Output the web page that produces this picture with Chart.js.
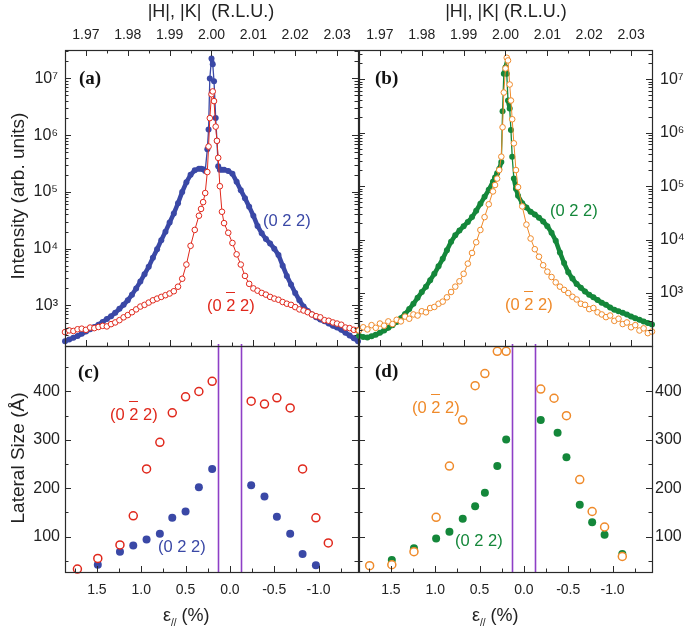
<!DOCTYPE html>
<html>
<head>
<meta charset="utf-8">
<script src="https://cdn.jsdelivr.net/npm/chart.js@4.4.1/dist/chart.umd.min.js"></script>
<style>
  body { margin: 0; background: #fff; }
  #wrap { position: relative; width: 685px; height: 626px; background: #fff; overflow: hidden; }
  canvas { position: absolute; left: 0; top: 0; }
  .t { position: absolute; white-space: nowrap; font-family: 'Liberation Sans', Arial, sans-serif; line-height: 1; color: #222; }
  .title { font-size: 18px; }
  .rot { transform: translate(-50%, -50%) rotate(-90deg); font-size: 19px; }
  .tag { font-family: 'Liberation Serif', 'Times New Roman', serif; font-weight: bold; font-size: 19px; color: #111; }
  .s { font-size: 16.5px; }
  .ov { position: relative; }
  .ov::before { content: ''; position: absolute; left: 0; right: 0; top: -4px; border-top: 1.5px solid currentColor; }
  sub { font-size: 10px; vertical-align: -5px; }
</style>
</head>
<body>
<div id="wrap">
  <canvas id="pa" width="685" height="626"></canvas>
  <canvas id="pb" width="685" height="626"></canvas>
  <canvas id="pc" width="685" height="626"></canvas>
  <canvas id="pd" width="685" height="626"></canvas>

  <div class="t title" style="left:211px;top:2px;transform:translateX(-50%)">|H|, |K|&nbsp;&nbsp;(R.L.U.)</div>
  <div class="t title" style="left:506px;top:2px;transform:translateX(-50%)">|H|, |K| (R.L.U.)</div>
  <div class="t title rot" style="left:17px;top:196px">Intensity (arb. units)</div>
  <div class="t title rot" style="left:17px;top:458px">Lateral Size (Å)</div>
  <div class="t title" style="left:163px;top:606px">ε<sub>//</sub> (%)</div>
  <div class="t title" style="left:472px;top:606px">ε<sub>//</sub> (%)</div>

  <div class="t tag" style="left:79px;top:68px">(a)</div>
  <div class="t tag" style="left:375px;top:68px">(b)</div>
  <div class="t tag" style="left:78px;top:362px">(c)</div>
  <div class="t tag" style="left:375px;top:361px">(d)</div>

  <div class="t s" style="left:263px;top:212px;color:#3a48a6">(0 2 2)</div>
  <div class="t s" style="left:207px;top:297px;color:#e0281c">(0 <span class="ov">2</span> 2)</div>
  <div class="t s" style="left:550px;top:202px;color:#14873a">(0 2 2)</div>
  <div class="t s" style="left:505px;top:296px;color:#ef8a2a">(0 <span class="ov">2</span> 2)</div>
  <div class="t s" style="left:110px;top:406px;color:#e0281c">(0 <span class="ov">2</span> 2)</div>
  <div class="t s" style="left:158px;top:538px;color:#3a48a6">(0 2 2)</div>
  <div class="t s" style="left:412px;top:399px;color:#ef8a2a">(0 <span class="ov">2</span> 2)</div>
  <div class="t s" style="left:455px;top:532px;color:#14873a">(0 2 2)</div>
</div>

<script>
// ---- data: top panels, |H|,|K| grid (R.L.U.) and log10 of intensity ----
const hGrid = [1.965,1.966,1.967,1.968,1.969,1.970,1.971,1.972,1.973,1.974,1.975,1.976,1.977,1.978,1.979,1.980,1.981,1.982,1.983,1.984,1.985,1.986,1.987,1.988,1.989,1.990,1.991,1.992,1.993,1.994,1.995,1.996,1.997,
  1.9975,1.998,1.9985,1.999,1.9993,1.9996,2.0,2.0003,2.0006,2.001,2.0013,2.0016,2.002,2.0025,2.003,
  2.004,2.005,2.006,2.007,2.008,2.009,2.010,2.011,2.012,2.013,2.014,2.015,2.016,2.017,2.018,2.019,2.020,2.021,2.022,2.023,2.024,2.025,2.026,2.027,2.028,2.029,2.030,2.031,2.032,2.033,2.034,2.035];

const logA022 = [2.37,2.40,2.43,2.46,2.50,2.54,2.58,2.62,2.66,2.71,2.76,2.81,2.87,2.94,3.01,3.09,3.19,3.30,3.42,3.55,3.68,3.84,3.99,4.15,4.30,4.46,4.62,4.80,5.00,5.17,5.30,5.38,5.41,
  5.41,5.40,5.37,5.75,6.10,7.00,7.35,7.25,6.95,6.30,5.90,5.45,5.39,5.39,5.39,
  5.37,5.32,5.18,5.03,4.89,4.74,4.58,4.40,4.27,4.17,4.09,4.00,3.89,3.70,3.52,3.37,3.22,3.09,2.98,2.90,2.84,2.79,2.75,2.72,2.68,2.64,2.61,2.57,2.52,2.47,2.42,2.37];

const logA0m22 = [2.53,2.56,2.55,2.58,2.59,2.57,2.61,2.60,2.62,2.64,2.63,2.67,2.70,2.74,2.79,2.83,2.88,2.93,2.98,3.01,3.05,3.09,3.12,3.15,3.18,3.21,3.25,3.33,3.47,3.72,4.05,4.33,4.58,
  4.70,4.82,4.98,5.35,5.80,6.30,6.72,6.77,6.60,6.15,5.90,5.60,5.10,4.65,4.45,
  4.28,4.10,3.90,3.72,3.52,3.38,3.30,3.26,3.22,3.19,3.15,3.12,3.10,3.06,3.03,3.01,2.97,2.93,2.91,2.88,2.84,2.81,2.79,2.74,2.73,2.70,2.68,2.66,2.61,2.60,2.57,2.56];

const logB022 = [2.20,2.18,2.17,2.19,2.22,2.26,2.30,2.35,2.40,2.46,2.53,2.61,2.70,2.80,2.91,3.02,3.12,3.24,3.36,3.50,3.64,3.80,3.96,4.08,4.17,4.25,4.33,4.42,4.54,4.67,4.80,4.93,5.08,
  5.16,5.24,5.32,5.45,6.40,7.10,7.22,7.10,6.60,6.45,6.05,5.55,5.14,4.95,4.82,
  4.68,4.60,4.52,4.47,4.41,4.34,4.25,4.13,3.98,3.76,3.56,3.39,3.27,3.17,3.10,3.03,2.97,2.92,2.87,2.82,2.78,2.73,2.69,2.66,2.63,2.60,2.56,2.53,2.50,2.47,2.44,2.41];

const logB0m22 = [2.30,2.36,2.32,2.40,2.35,2.43,2.39,2.47,2.42,2.50,2.47,2.56,2.52,2.60,2.58,2.66,2.64,2.72,2.74,2.80,2.84,2.92,3.02,3.12,3.22,3.36,3.55,3.75,3.95,4.18,4.42,4.66,4.90,
  5.02,5.14,5.30,5.55,6.10,6.75,7.20,7.40,7.35,6.90,6.60,6.25,5.80,5.30,4.98,
  4.62,4.28,4.02,3.82,3.68,3.52,3.40,3.30,3.20,3.12,3.06,3.00,2.93,2.88,2.80,2.78,2.70,2.72,2.64,2.60,2.55,2.58,2.48,2.52,2.42,2.45,2.36,2.40,2.30,2.34,2.25,2.28];

// ---- data: bottom panels, strain (%) and lateral size (Å) ----
const epsC0m22  = [1.72,1.49,1.24,1.09,0.94,0.79,0.65,0.50,0.35,0.20,-0.24,-0.39,-0.53,-0.68,-0.82,-0.97,-1.11];
const sizeC0m22 = [33,55,83,143,240,295,356,389,400,421,380,374,387,366,240,139,87];
const epsC022   = [1.49,1.24,1.09,0.94,0.79,0.65,0.50,0.35,0.20,-0.24,-0.39,-0.53,-0.68,-0.82,-0.97];
const sizeC022  = [42,69,82,94,106,139,152,202,240,206,183,141,106,64,41];

const epsD0m22  = [1.74,1.49,1.24,0.99,0.84,0.69,0.55,0.44,0.30,0.20,-0.19,-0.34,-0.48,-0.63,-0.77,-0.91,-1.11];
const sizeD0m22 = [40,42,69,140,246,341,412,437,483,483,405,386,350,218,152,120,59];
const epsD022   = [1.49,1.24,0.99,0.84,0.69,0.55,0.44,0.30,0.20,-0.19,-0.38,-0.48,-0.63,-0.77,-0.91,-1.11];
const sizeD022  = [52,76,96,110,137,163,191,246,301,341,315,264,166,130,104,64];

const strainLimits = [0.13, -0.13];

// ---- ticks ----
const hTicks = [1.97,1.98,1.99,2.00,2.01,2.02,2.03];
const hMinor = [1.975,1.985,1.995,2.005,2.015,2.025];
const decadeTicks = [1e3,1e4,1e5,1e6,1e7];
const decadeLabels = ['10³','10⁴','10⁵','10⁶','10⁷'];
const epsTicks = [1.5,1.0,0.5,0.0,-0.5,-1.0];
const epsLabels = ['1.5','1.0','0.5','0.0','-0.5','-1.0'];
const epsMinor = [1.75,1.25,0.75,0.25,-0.25,-0.75,-1.25];
const sizeTicks = [100,200,300,400];
const sizeLabels = ['100','200','300','400'];
const sizeMinor = [50,150,250,350,450];

const logMinor = [];
[2,3,4,5,6,7].forEach(d => { for (let m = 2; m <= 9; m++) logMinor.push(m * Math.pow(10, d)); });

const BLUE = '#3a48a6', RED = '#e0281c', GREEN = '#14873a', ORANGE = '#ef8a2a';

Chart.defaults.font.family = "'Liberation Sans', Arial, sans-serif";
Chart.defaults.color = '#222';

const toLogPts = (xs, logs) => xs.map((x, i) => ({ x: x, y: Math.pow(10, logs[i]) }));
const toPts = (xs, ys) => xs.map((x, i) => ({ x: x, y: ys[i] }));

// frame, inward ticks and strain markers
const specs = {};
const frame = {
  id: 'frame',
  afterDraw(chart) {
    const sp = specs[chart.canvas.id];
    const { ctx, chartArea: a } = chart;
    const xs = chart.scales.x, ys = chart.scales.y;
    ctx.save();
    if (sp.marks) {
      ctx.strokeStyle = '#8e3fc6';
      ctx.lineWidth = 1.6;
      sp.marks.forEach(v => {
        const px = Math.round(xs.getPixelForValue(v)) + 0.5;
        ctx.beginPath(); ctx.moveTo(px, a.top - 2); ctx.lineTo(px, a.bottom); ctx.stroke();
      });
    }
    ctx.strokeStyle = '#2a2a2a';
    ctx.lineWidth = 1.2;
    ctx.strokeRect(a.left + 0.5, a.top + 0.5, a.right - a.left, a.bottom - a.top);
    ctx.lineWidth = 1;
    const xt = (list, len) => list.forEach(v => {
      const px = Math.round(xs.getPixelForValue(v)) + 0.5;
      if (px < a.left + 1 || px > a.right - 1) return;
      ctx.beginPath();
      if (sp.xSides.includes('top')) { ctx.moveTo(px, a.top); ctx.lineTo(px, a.top + len); }
      if (sp.xSides.includes('bottom')) { ctx.moveTo(px, a.bottom); ctx.lineTo(px, a.bottom - len); }
      ctx.stroke();
    });
    const yt = (list, len) => list.forEach(v => {
      const py = Math.round(ys.getPixelForValue(v)) + 0.5;
      if (py < a.top + 1 || py > a.bottom - 1) return;
      ctx.beginPath();
      ctx.moveTo(a.left, py); ctx.lineTo(a.left + len, py);
      ctx.moveTo(a.right, py); ctx.lineTo(a.right - len, py);
      ctx.stroke();
    });
    xt(sp.xMajor, 6); xt(sp.xMinor, 3.5);
    yt(sp.yMajor, 6); yt(sp.yMinor, 3.5);
    ctx.restore();
  }
};

// dense runs of filled markers read as a band, the sparse peak stays a thin line
const bandWidth = c => Math.hypot(c.p1.x - c.p0.x, c.p1.y - c.p0.y) < 14 ? 4.5 : 1.3;

function filled(data, color, r, line) {
  return { data, showLine: line, borderColor: color, backgroundColor: color, borderWidth: line ? 1.3 : 0,
    segment: line ? { borderWidth: bandWidth } : undefined,
    pointRadius: r, pointBackgroundColor: color, pointBorderColor: color, pointBorderWidth: 0, clip: 5 };
}
function open(data, color, r, bw, line) {
  return { data, showLine: line, borderColor: color, backgroundColor: '#fff', borderWidth: line ? 1 : 0,
    pointRadius: r, pointBackgroundColor: '#fff', pointBorderColor: color, pointBorderWidth: bw, clip: 5 };
}

const noGrid = { display: false, drawTicks: false, tickLength: 0 };

function topScales(logMin, logMax, yPos, yPad) {
  return {
    x: { type: 'linear', position: 'top', min: 1.965, max: 2.035,
      grid: noGrid, border: { display: false },
      afterBuildTicks: s => { s.ticks = hTicks.map(v => ({ value: v })); },
      afterFit: s => { s.height = 50; },
      ticks: { padding: 6, maxRotation: 0, minRotation: 0, autoSkip: false, font: { size: 14 },
        callback: v => v.toFixed(2) } },
    y: { type: 'logarithmic', position: yPos, min: Math.pow(10, logMin), max: Math.pow(10, logMax),
      grid: noGrid, border: { display: false },
      afterBuildTicks: s => { s.ticks = decadeTicks.map(v => ({ value: v })); },
      afterFit: s => { s.width = yPos === 'left' ? 65 : 33; },
      ticks: { padding: yPad, autoSkip: false, font: { size: 16 }, callback: (v, i) => decadeLabels[i] } }
  };
}

function bottomScales(yPos, yPad) {
  return {
    x: { type: 'linear', position: 'bottom', reverse: true, min: -1.445, max: 1.86,
      grid: noGrid, border: { display: false },
      afterBuildTicks: s => { s.ticks = epsTicks.map(v => ({ value: v })); },
      afterFit: s => { s.height = 54; },
      ticks: { padding: 10, maxRotation: 0, minRotation: 0, autoSkip: false, font: { size: 14 },
        callback: (v, i) => epsLabels[i] } },
    y: { type: 'linear', position: yPos, min: 27, max: 494,
      grid: noGrid, border: { display: false },
      afterBuildTicks: s => { s.ticks = sizeTicks.map(v => ({ value: v })); },
      afterFit: s => { s.width = yPos === 'left' ? 65 : 33; },
      ticks: { padding: yPad, autoSkip: false, font: { size: 16 }, callback: (v, i) => sizeLabels[i] } }
  };
}

function panel(id, pad, scales, datasets, spec) {
  specs[id] = spec;
  return new Chart(document.getElementById(id), {
    type: 'scatter',
    data: { datasets },
    options: {
      responsive: false, animation: false, events: [],
      layout: { padding: pad },
      plugins: { legend: { display: false }, tooltip: { enabled: false } },
      scales
    },
    plugins: [frame]
  });
}

const topSpec = { xMajor: hTicks, xMinor: hMinor, xSides: ['top', 'bottom'], yMajor: decadeTicks, yMinor: logMinor };
const botSpec = { xMajor: epsTicks, xMinor: epsMinor, xSides: ['bottom'], yMajor: sizeTicks, yMinor: sizeMinor, marks: strainLimits };

panel('pa', { left: 0, right: 327, top: 0, bottom: 280 }, topScales(2.285, 7.50, 'left', 7), [
  open(toLogPts(hGrid, logA0m22), RED, 2.8, 1, true),
  filled(toLogPts(hGrid, logA022), BLUE, 3, true)
], topSpec);

panel('pb', { left: 359, right: 0, top: 0, bottom: 280 }, topScales(2.01, 7.545, 'right', 8), [
  open(toLogPts(hGrid, logB0m22), ORANGE, 2.8, 1, true),
  filled(toLogPts(hGrid, logB022), GREEN, 3, true)
], topSpec);

panel('pc', { left: 0, right: 327, top: 346, bottom: 0 }, bottomScales('left', 5), [
  open(toPts(epsC0m22, sizeC0m22), RED, 4, 1.5, false),
  filled(toPts(epsC022, sizeC022), BLUE, 4, false)
], botSpec);

panel('pd', { left: 359, right: 0, top: 346, bottom: 0 }, bottomScales('right', 3), [
  open(toPts(epsD0m22, sizeD0m22), ORANGE, 4, 1.5, false),
  filled(toPts(epsD022, sizeD022), GREEN, 4, false)
], botSpec);
</script>
</body>
</html>
